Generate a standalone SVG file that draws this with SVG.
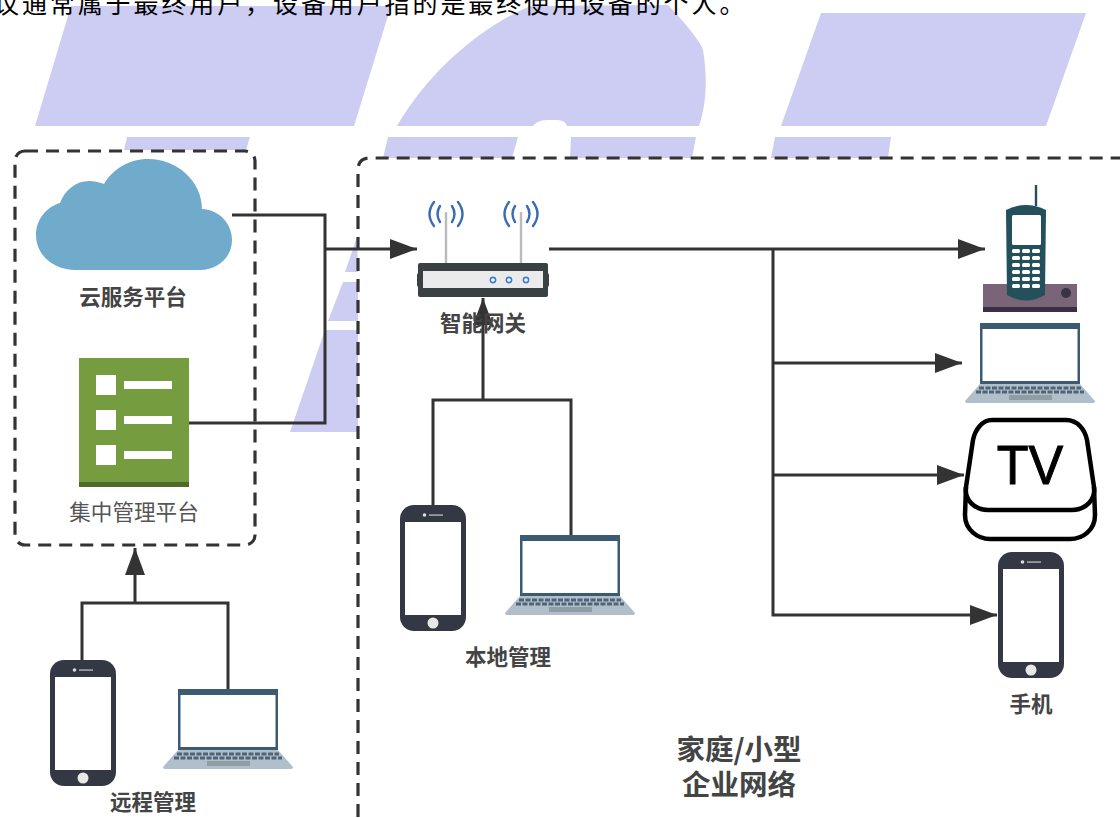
<svg xmlns="http://www.w3.org/2000/svg" xmlns:xlink="http://www.w3.org/1999/xlink" width="1120" height="818" viewBox="0 0 1120 818">
<style>
text{font-family:"Noto Sans CJK SC","Liberation Sans",sans-serif;fill:#444;text-anchor:middle}
.lb{font-size:21.500px;font-weight:700}
.lr{font-size:21.600px;font-weight:400;fill:#555}
.big{font-size:28.500px;font-weight:700}
.top{font-size:25px;fill:#000;text-anchor:start;letter-spacing:2.900px;font-family:"Noto Sans CJK SC",serif}
.wm{fill:#cdcdf3}
.cn{fill:none;stroke:#333;stroke-width:3}
.box{fill:none;stroke:#333;stroke-width:3.200;stroke-dasharray:13 8}
.wave{fill:none;stroke:#3a6cb5;stroke-width:2.400;stroke-linecap:round}
.ant{stroke:#bbb;stroke-width:2.400}
.dot{fill:#fff;stroke:#3f7fd0;stroke-width:1.600}
.key{fill:#fff}
.tvl{fill:none;stroke:#000;stroke-width:4.500}
</style>
<defs>
<marker id="arrow" markerUnits="userSpaceOnUse" markerWidth="28" markerHeight="20" refX="27" refY="10" orient="auto">
<path d="M0 0L27 10L0 20L0 0Z" fill="#333"/>
</marker>
<symbol id="phone" width="66" height="126" viewBox="0 0 66 126" overflow="visible">
<rect width="66" height="126" rx="14" fill="#343844"/>
<rect x="5" y="17" width="56" height="93" fill="#fff"/>
<circle cx="33" cy="118" r="5.500" fill="#e8e8e8"/>
<circle cx="24.500" cy="10" r="1.800" fill="#ddd"/>
<rect x="29" y="9.200" width="14" height="1.800" fill="#999"/>
</symbol>
<symbol id="laptop" width="130" height="81" viewBox="0 0 130 81" overflow="visible">
<rect x="15" y="0" width="100" height="62" fill="#3d5a73"/>
<rect x="17.500" y="6" width="95" height="52" fill="#fff"/>
<path d="M15 61H115L130 78Q130 80 127 80H3Q0 80 0 78Z" fill="#b0bfc9"/>
<path d="M14 65H116M11 69H119" stroke="#4f6478" stroke-width="3" stroke-dasharray="5 1.500"/>
<rect x="44" y="72" width="43" height="5" fill="#8f9ea4"/>
</symbol>
</defs>
<rect width="1120" height="818" fill="#fff"/>
<g id="watermark">
<polygon class="wm" points="71,6 391,6 354,126 35,126"/>
<path class="wm" d="M397 126C430 70 480 28 530 6L668 5C690 28 702 45 703 50C708 80 706 105 699 126H567C565 120 560 120 550 120C542 120 537 121 533 126Z"/>
<polygon class="wm" points="821,13 1086,13 1046,126 781,126"/>
<polygon class="wm" points="127,137 250,137 246,150 124,150"/>
<polygon class="wm" points="388,137 518,137 512,158 383,158"/>
<polygon class="wm" points="571,137 696,137 692,158 570,158"/>
<polygon class="wm" points="775,137 891,137 888,158 771,158"/>
<polygon class="wm" points="357,237 358,272 345,272"/>
<polygon class="wm" points="343,282 358,282 358,321 328,321"/>
<polygon class="wm" points="325,330 358,330 358,432 290,432"/>
</g>
<text class="top" x="-6" y="13">议通常属于最终用户，设备用户指的是最终使用设备的个人。</text>
<g id="zones">
<rect class="box" x="15" y="151" width="240" height="394" rx="10"/>
<path class="box" d="M358 817V170Q358 158 370 158H1120"/>
</g>
<g id="connectors">
<path class="cn" d="M232 215H325V423H189"/>
<path class="cn" d="M325 249H417" marker-end="url(#arrow)"/>
<path class="cn" d="M549 249H985" marker-end="url(#arrow)"/>
<path class="cn" d="M773 249V615H997" marker-end="url(#arrow)"/>
<path class="cn" d="M773 363H962" marker-end="url(#arrow)"/>
<path class="cn" d="M773 475H964" marker-end="url(#arrow)"/>
<path class="cn" d="M433 505V400H571V535"/>
<path class="cn" d="M483 400V298" marker-end="url(#arrow)"/>
<path class="cn" d="M82 660V603H228V690"/>
<path class="cn" d="M135 603V548" marker-end="url(#arrow)"/>
</g>
<g id="cloud">
<path fill="#70abcc" d="M76 270C52 270 36 254 36 235C36 220 46 207 60 203C65 190 76 181 89 181C94 181 99 182 104 184C113 169 129 159 148 159C178 159 202 182 202 209C220 210 232 224 232 240C232 257 218 270 200 270Z"/>
<text class="lb" x="133" y="305">云服务平台</text>
</g>
<g id="mgmt">
<rect x="79" y="358" width="110" height="129" fill="#759c3e"/>
<rect x="79" y="482" width="110" height="5" fill="#4f6b2a"/>
<g fill="#fff">
<rect x="96" y="375" width="20" height="20"/><rect x="124" y="381" width="48" height="8"/>
<rect x="96" y="410" width="20" height="20"/><rect x="124" y="416" width="48" height="8"/>
<rect x="96" y="445" width="20" height="20"/><rect x="124" y="451" width="48" height="8"/>
</g>
<text class="lr" x="134" y="520">集中管理平台</text>
</g>
<g id="remote">
<use xlink:href="#phone" href="#phone" x="50" y="660"/>
<use xlink:href="#laptop" href="#laptop" x="163" y="689"/>
<text class="lb" x="153" y="810">远程管理</text>
</g>
<g id="gateway">
<path class="ant" d="M446 212V263M521 212V263"/>
<path class="wave" d="M440 206Q435 214 440 222M452 206Q457 214 452 222M434 202Q425 214 434 226M458 202Q467 214 458 226"/>
<path class="wave" d="M515 206Q510 214 515 222M527 206Q532 214 527 222M509 202Q500 214 509 226M533 202Q542 214 533 226"/>
<rect x="417" y="273" width="132" height="14" rx="2" fill="#3a4145"/>
<rect x="418" y="263" width="130" height="34" rx="2" fill="#3a4145"/>
<rect x="423" y="271" width="120" height="17" fill="#ebebeb"/>
<circle class="dot" cx="493" cy="280" r="2.600"/><circle class="dot" cx="509" cy="280" r="2.600"/><circle class="dot" cx="526" cy="280" r="2.600"/>
<text class="lb" x="483" y="331">智能网关</text>
</g>
<g id="local">
<use xlink:href="#phone" href="#phone" x="400" y="505"/>
<use xlink:href="#laptop" href="#laptop" x="505" y="535"/>
<text class="lb" x="508" y="665">本地管理</text>
</g>
<g id="handset">
<rect x="983" y="284" width="94" height="28" fill="#7a6478"/>
<rect x="983" y="307" width="94" height="5" fill="#3c2f45"/>
<circle cx="1066" cy="293" r="5" fill="#3a3245"/>
<path d="M1036 185V206" stroke="#24505c" stroke-width="2.400"/>
<path d="M1006 210Q1026 200 1046 210L1045 295Q1026 306 1007 295Z" fill="#24505c"/>
<rect x="1012" y="215" width="29" height="30" rx="1.500" fill="#fff"/>
<g class="key">
<rect x="1012" y="249" width="8" height="4" rx="1.500"/><rect x="1022" y="249" width="8" height="4" rx="1.500"/><rect x="1032" y="249" width="8" height="4" rx="1.500"/>
<rect x="1012" y="256" width="8" height="4" rx="1.500"/><rect x="1022" y="256" width="8" height="4" rx="1.500"/><rect x="1032" y="256" width="8" height="4" rx="1.500"/>
<rect x="1012" y="263" width="8" height="4" rx="1.500"/><rect x="1022" y="263" width="8" height="4" rx="1.500"/><rect x="1032" y="263" width="8" height="4" rx="1.500"/>
<rect x="1012" y="270" width="8" height="4" rx="1.500"/><rect x="1022" y="270" width="8" height="4" rx="1.500"/><rect x="1032" y="270" width="8" height="4" rx="1.500"/>
<rect x="1012" y="277" width="8" height="4" rx="1.500"/><rect x="1022" y="277" width="8" height="4" rx="1.500"/><rect x="1032" y="277" width="8" height="4" rx="1.500"/>
<rect x="1012" y="284" width="8" height="4" rx="1.500"/><rect x="1022" y="284" width="8" height="4" rx="1.500"/><rect x="1032" y="284" width="8" height="4" rx="1.500"/>
</g>
</g>
<g id="laptop-right">
<use xlink:href="#laptop" href="#laptop" x="965" y="323"/>
</g>
<g id="tv">
<path class="tvl" d="M992 420H1066C1078 420 1085 430 1087 440L1094 487C1096 500 1085 510 1072 510H988C975 510 964 500 966 487L973 440C975 430 982 420 992 420Z"/>
<path class="tvl" d="M966 487L965 515C965 530 978 539 990 539H1070C1083 539 1095 530 1095 515L1094 487"/>
<text transform="translate(1030 484) scale(.93 1)" style="font-family:'Liberation Sans',sans-serif;font-size:56px;fill:#000;stroke:#000;stroke-width:1">TV</text>
</g>
<g id="mobile">
<use xlink:href="#phone" href="#phone" x="998" y="552"/>
<text class="lb" x="1031" y="712">手机</text>
</g>
<g id="network-label">
<text class="big" x="739"><tspan x="739" y="760">家庭/小型</tspan><tspan x="739" y="795">企业网络</tspan></text>
</g>
</svg>
